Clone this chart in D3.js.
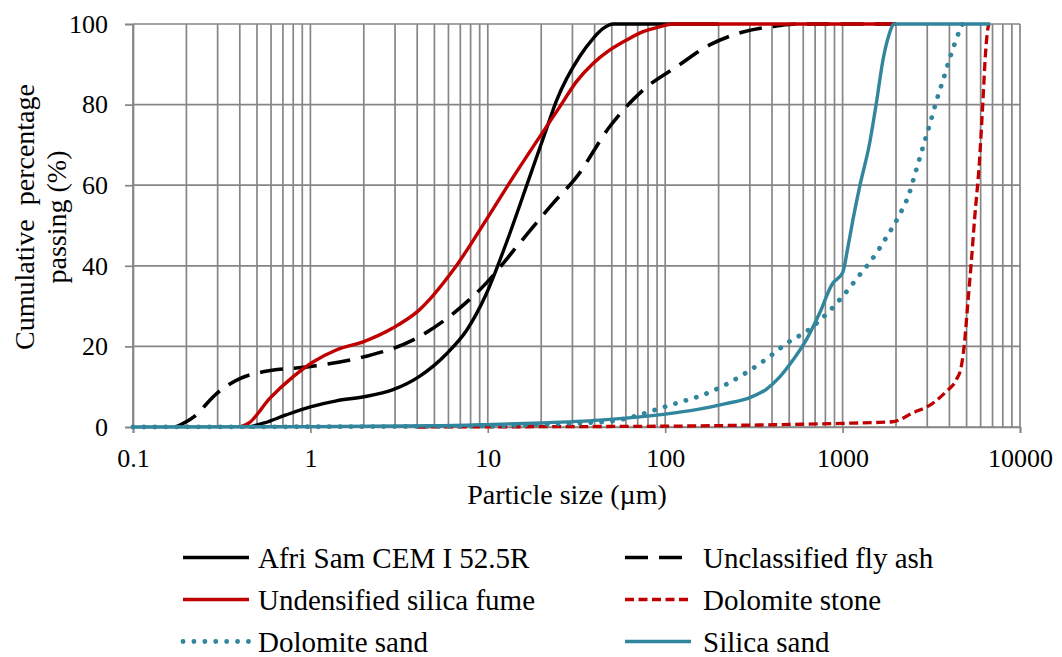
<!DOCTYPE html>
<html>
<head>
<meta charset="utf-8">
<script src="https://cdn.jsdelivr.net/npm/d3@7"></script>
<style>
  html, body { margin: 0; padding: 0; background: #fff; }
  svg { display: block; }
  text { font-family: "Liberation Serif", "Times New Roman", serif; fill: #000; }
</style>
</head>
<body>
<svg id="chart" width="1062" height="657"></svg>
<script>
// Particle size distributions (size in µm, cumulative % passing)
const cementSize = [0.45, 0.55, 0.73, 1, 1.4, 2, 2.9, 4.1, 5.9, 7.6, 9.8, 12.7, 17.2, 21, 24.4, 33, 39.2, 44.7, 51, 60, 200];
const cementPass = [0, 1, 3, 5, 6.5, 7.5, 9.2, 12.5, 18.3, 24, 33, 45.6, 62, 72.9, 81, 92, 96.4, 98.9, 100, 100, 100];

const flyAshSize = [0.175, 0.22, 0.296, 0.4, 0.54, 1, 2, 3.8, 6.4, 9.8, 15.1, 23.3, 31.6, 48.6, 75, 116, 178, 274, 423, 550, 2000];
const flyAshPass = [0, 2.5, 8.3, 12, 13.7, 15, 17.4, 21.6, 28.2, 35.7, 45.6, 55.5, 62, 74.5, 83.6, 89.4, 94.8, 98, 99.5, 100, 100];

const silicaFumeSize = [0.4, 0.45, 0.59, 0.8, 1.04, 1.4, 2, 2.9, 4.1, 6.4, 9.8, 13.9, 19.6, 25.5, 31.6, 39.2, 48.6, 60.4, 75, 93, 110, 2000];
const silicaFumePass = [0, 1, 7.1, 12.5, 16.2, 19.1, 21.2, 24.5, 29, 39, 51.4, 62, 72, 79.5, 85.7, 90.2, 93.5, 96, 98.1, 99.3, 100, 100];

const dolStoneSize = [4, 30, 100, 340, 1000, 1500, 1918, 2489, 3228, 3837, 4373, 4667, 4864, 5080, 5308, 5541, 5916, 6170, 6392, 6590, 6700];
const dolStonePass = [0, 0.1, 0.2, 0.5, 0.9, 1.1, 1.3, 3.5, 5.9, 8.8, 11.7, 15, 20.8, 30.7, 40.6, 51.4, 66.3, 80.3, 92.7, 98.9, 100];

const dolSandSize = [0.1, 10, 25, 49, 66.5, 90, 122, 164, 219, 289, 375, 486, 638, 805, 996, 1215, 1481, 1762, 2067, 2363, 2588, 2834, 3104, 3386, 3724, 4097, 4560, 4750];
const dolSandPass = [0, 0.2, 0.8, 1.4, 2.6, 4.4, 6.2, 8, 10.5, 13.6, 17, 20.8, 24, 27.9, 32.3, 37.1, 41.9, 47, 52.2, 57.7, 63.5, 69.4, 75.2, 81, 86.8, 92.6, 98.3, 100];

const silicaSandSize = [0.1, 1, 5, 10, 20, 42.8, 60, 100, 150, 220, 300, 370, 440, 525, 624, 741, 882, 941, 1005, 1072, 1143, 1247, 1420, 1549, 1688, 1800, 1963, 6800];
const silicaSandPass = [0, 0.1, 0.3, 0.6, 1.0, 1.7, 2.2, 3.2, 4.3, 5.8, 7.3, 9.3, 12.3, 16.6, 21.6, 28.2, 35.7, 36.9, 38.5, 44.7, 51.4, 59.6, 70.4, 80.3, 91, 96.4, 100, 100];

const xTickValues = [0.1, 1, 10, 100, 1000, 10000];
const xTickLabels = ["0.1", "1", "10", "100", "1000", "10000"];
const yTickValues = [0, 20, 40, 60, 80, 100];

const seriesNames = ["Afri Sam CEM I 52.5R", "Unclassified fly ash", "Undensified silica fume",
                     "Dolomite stone", "Dolomite sand", "Silica sand"];

const RED = "#C00000", TEAL = "#31859C", GRID = "#868686";

const series = [
  { name: seriesNames[0], size: cementSize, pass: cementPass, color: "#000", width: 3.4, dash: null, cap: "butt" },
  { name: seriesNames[1], size: flyAshSize, pass: flyAshPass, color: "#000", width: 3.6, dash: "23 11", cap: "butt" },
  { name: seriesNames[2], size: silicaFumeSize, pass: silicaFumePass, color: RED, width: 3.4, dash: null, cap: "butt" },
  { name: seriesNames[3], size: dolStoneSize, pass: dolStonePass, color: RED, width: 3.3, dash: "9 4.5", cap: "butt" },
  { name: seriesNames[4], size: dolSandSize, pass: dolSandPass, color: TEAL, width: 4.8, dash: "0.1 10.8", cap: "round" },
  { name: seriesNames[5], size: silicaSandSize, pass: silicaSandPass, color: TEAL, width: 3.4, dash: null, cap: "butt" }
];

const svg = d3.select("#chart");
const plotLeft = 133, plotRight = 1020, plotTop = 24, plotBottom = 427;

const x = d3.scaleLog().domain([0.1, 10000]).range([plotLeft, plotRight]);
const y = d3.scaleLinear().domain([0, 100]).range([plotBottom, plotTop]);

// Grid: vertical lines at every 1..9 x 10^k, horizontal every 20 %
const vGrid = [];
for (let k = -1; k <= 3; k++) for (let m = 1; m <= 9; m++) vGrid.push(m * Math.pow(10, k));
vGrid.push(10000);

const grid = svg.append("g");
grid.selectAll("line.v").data(vGrid).join("line").attr("class", "v")
  .attr("x1", d => x(d)).attr("x2", d => x(d))
  .attr("y1", plotTop).attr("y2", plotBottom)
  .attr("stroke", GRID).attr("stroke-width", 1.7);
grid.selectAll("line.h").data(yTickValues).join("line").attr("class", "h")
  .attr("x1", plotLeft).attr("x2", plotRight)
  .attr("y1", d => y(d)).attr("y2", d => y(d))
  .attr("stroke", GRID).attr("stroke-width", 1.7);

// Axes
const xAxis = svg.append("g").attr("transform", `translate(0,${plotBottom})`)
  .call(d3.axisBottom(x).tickValues(xTickValues)
    .tickFormat((d, i) => xTickLabels[i]).tickSizeOuter(0).tickSize(6).tickPadding(16));
const yAxis = svg.append("g").attr("transform", `translate(${plotLeft},0)`)
  .call(d3.axisLeft(y).tickValues(yTickValues).tickSizeOuter(0).tickSize(8).tickPadding(17));

[xAxis, yAxis].forEach(a => {
  a.select(".domain").attr("stroke", GRID).attr("stroke-width", 1.7);
  a.selectAll(".tick line").attr("stroke", GRID).attr("stroke-width", 1.7);
  a.selectAll(".tick text").attr("font-size", 26).attr("font-family", "Liberation Serif");
});

// Axis titles
svg.append("text").attr("x", 567).attr("y", 504)
  .attr("text-anchor", "middle").attr("font-size", 28).text("Particle size (µm)");
const yTitle = svg.append("text").attr("transform", "translate(0,217) rotate(-90)")
  .attr("text-anchor", "middle").attr("font-size", 28);
yTitle.append("tspan").attr("x", 0).attr("y", 34).style("white-space", "pre").text("Cumulative  percentage");
yTitle.append("tspan").attr("x", 0).attr("y", 66).text("passing (%)");

// Curves
const line = d3.line()
  .x(d => x(d[0])).y(d => y(d[1]))
  .curve(d3.curveMonotoneX);

const plot = svg.append("g");
series.forEach(s => {
  const pts = s.size.map((v, i) => [v, s.pass[i]]);
  plot.append("path").datum(pts)
    .attr("d", line)
    .attr("fill", "none")
    .attr("stroke", s.color)
    .attr("stroke-width", s.width)
    .attr("stroke-linecap", s.cap)
    .attr("stroke-dasharray", s.dash);
});

// Legend (two columns, three rows)
const legend = svg.append("g");
series.forEach((s, i) => {
  const col = i % 2, row = Math.floor(i / 2);
  const lx = col === 0 ? 183 : 625;
  const ly = 557.5 + row * 42;
  legend.append("line")
    .attr("x1", lx).attr("x2", lx + 66).attr("y1", ly).attr("y2", ly)
    .attr("stroke", s.color).attr("stroke-width", s.width)
    .attr("stroke-linecap", s.cap).attr("stroke-dasharray", s.dash);
  legend.append("text").attr("x", lx + (col === 0 ? 75 : 78)).attr("y", ly + 10)
    .attr("font-size", 29).text(s.name);
});
</script>
</body>
</html>
